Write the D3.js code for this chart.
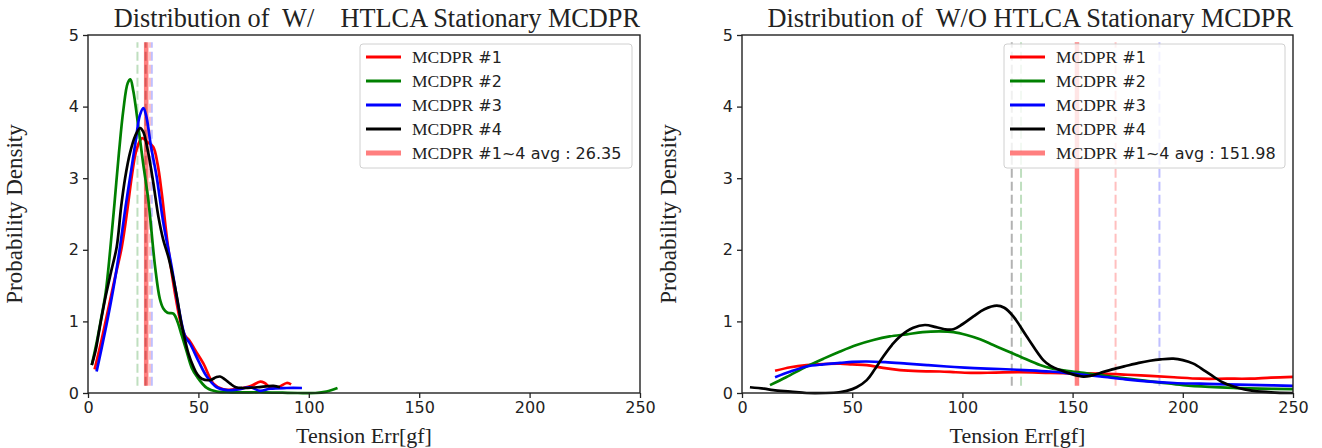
<!DOCTYPE html>
<html>
<head>
<meta charset="utf-8">
<script src="https://cdn.jsdelivr.net/npm/d3@7"></script>
<style>
  body { margin: 0; background: #fff; }
  text { white-space: pre; }
</style>
</head>
<body>
<svg width="1322" height="448"></svg>
<script>
const seriesNames = ['MCDPR #1', 'MCDPR #2', 'MCDPR #3', 'MCDPR #4'];
const seriesColors = ['#ff0000', '#008000', '#0000ff', '#000000'];
const xTicks = [0, 50, 100, 150, 200, 250];
const yTicks = [0, 1, 2, 3, 4, 5];

// left panel : W/ HTLCA  (x = tension err, y = density)
const withRed = [[3,0.33],[6,0.72],[9,1.15],[12,1.58],[15.3,2.04],[18,2.6],[19.8,3.02],[22,3.4],[24.5,3.56],[27,3.5],[29.5,3.44],[31.5,3.2],[33.4,2.79],[36,2.1],[39.4,1.39],[42,0.98],[44,0.8],[46,0.73],[48.5,0.6],[52.3,0.41],[56.8,0.13],[61.3,0.05],[66,0.05],[70,0.07],[74,0.1],[78,0.16],[80,0.14],[82.5,0.08],[86,0.08],[90,0.14],[92,0.12]];
const withGreen = [[1.7,0.39],[4,0.72],[6,1.05],[8,1.4],[10,1.98],[12,2.65],[14,3.35],[16,3.95],[18,4.33],[19.2,4.38],[20.5,4.22],[22.8,3.72],[25,3.2],[27.3,2.7],[30.4,1.76],[32.5,1.32],[34.1,1.18],[36,1.12],[38.7,1.11],[40.5,1.0],[42.5,0.8],[44.5,0.6],[47,0.35],[49.3,0.23],[53.8,0.07],[58.3,0.02],[65,0.01],[80,0.01],[95,0.0],[103,0.0],[108,0.02],[113,0.07]];
const withBlue = [[3.9,0.3],[6,0.6],[9,1.05],[12,1.55],[14.5,2.04],[17,2.6],[19,3.0],[21.5,3.5],[23.5,3.88],[25.1,3.98],[26.5,3.85],[28.5,3.45],[31.1,3.02],[34,2.4],[37.9,1.76],[41,1.2],[44,0.79],[46.2,0.69],[50,0.45],[53.8,0.23],[58.3,0.08],[62.9,0.04],[68,0.05],[73.4,0.08],[78,0.03],[82.5,0.06],[90,0.07],[96.9,0.07]];
const withBlack = [[1.7,0.39],[3.5,0.6],[5.4,0.93],[8,1.35],[10.5,1.7],[13,2.04],[15,2.6],[16.8,3.0],[19,3.35],[21.5,3.6],[23.6,3.7],[25,3.65],[27,3.4],[29.5,2.95],[31.9,2.46],[34,2.15],[36.4,1.9],[38.5,1.62],[40.5,1.3],[42,1.02],[43.5,0.8],[45.5,0.55],[47.7,0.37],[49.5,0.26],[51.5,0.2],[55.3,0.18],[58,0.22],[59.8,0.23],[62,0.19],[64.4,0.13],[67,0.08],[70,0.07],[76.5,0.08],[84,0.1],[87,0.08]];
const withMeans = [28.0, 22.4, 28.9, 26.1];
const withAvg = 26.35;

// right panel : W/O HTLCA
const woRed = [[15,0.31],[22,0.36],[29.3,0.39],[37,0.405],[44.5,0.41],[50,0.4],[56.6,0.39],[64,0.35],[71.7,0.32],[80,0.305],[89.8,0.3],[97,0.29],[104.9,0.28],[115,0.285],[126,0.29],[139.8,0.28],[150,0.275],[162.5,0.27],[175,0.255],[185.1,0.24],[196,0.22],[207.8,0.2],[220,0.2],[230.4,0.2],[240,0.215],[250,0.225]];
const woGreen = [[12.7,0.11],[20,0.22],[29.3,0.37],[37,0.48],[44.5,0.58],[52,0.67],[59.6,0.74],[67,0.79],[74.7,0.82],[82,0.85],[89.8,0.86],[96,0.85],[101.9,0.81],[108,0.75],[114,0.67],[120,0.59],[126.1,0.51],[135.2,0.39],[141,0.34],[147.3,0.31],[155,0.28],[162.5,0.25],[171,0.215],[180.6,0.18],[190,0.145],[200.2,0.11],[212,0.085],[223,0.07],[235,0.06],[250,0.055]];
const woBlue = [[15,0.22],[22,0.3],[29.3,0.37],[37,0.4],[44.5,0.42],[50,0.435],[56.6,0.44],[65,0.43],[74.7,0.41],[84,0.39],[92.9,0.37],[101,0.355],[111,0.34],[117,0.335],[128,0.32],[139.8,0.3],[150,0.27],[162.5,0.23],[174,0.19],[185.1,0.16],[196,0.14],[207.8,0.13],[220,0.12],[235,0.11],[250,0.1]];
const woBlack = [[3.6,0.08],[10,0.06],[14.2,0.04],[22,0.02],[29.3,0.0],[38,0.0],[44,0.01],[47.5,0.03],[52,0.08],[56.6,0.18],[60,0.32],[64.1,0.51],[68,0.67],[71.7,0.79],[77.7,0.91],[83,0.95],[88,0.92],[92,0.89],[95.9,0.89],[100,0.96],[105,1.07],[110,1.17],[115.6,1.22],[119,1.19],[123.1,1.07],[129.2,0.79],[136.7,0.46],[140,0.38],[144.3,0.32],[150,0.26],[154.9,0.23],[158,0.24],[162.5,0.28],[168,0.33],[174.5,0.38],[180,0.42],[185.1,0.45],[190,0.47],[195.7,0.48],[200,0.46],[204.8,0.41],[210,0.31],[213.9,0.23],[218,0.15],[223,0.09],[228,0.05],[232,0.03],[240,0.01],[250,0.0]];
const woMeans = [169.5, 126.6, 189.4, 122.4];
const woAvg = 151.98;

const svg = d3.select('svg');
const serif = '"Liberation Serif", "DejaVu Serif", serif';
const sans = '"DejaVu Sans", sans-serif';

const drawPanel = (opt) => {
    const { left, right, top, bottom } = opt;
    const xScale = d3.scaleLinear().domain([0, 250]).range([left, right]);
    const yScale = d3.scaleLinear().domain([0, 5]).range([bottom, top]);
    const g = svg.append('g');

    // thin dashed lines at each series mean, and the thick avg line
    opt.means.forEach((m, i) => {
        g.append('line')
            .attr('x1', xScale(m)).attr('x2', xScale(m))
            .attr('y1', yScale(0.1)).attr('y2', yScale(4.9))
            .attr('stroke', seriesColors[i])
            .attr('stroke-opacity', i === 3 ? 0.3 : 0.25)
            .attr('stroke-width', 2)
            .attr('stroke-dasharray', '9,4');
    });
    g.append('line')
        .attr('x1', xScale(opt.avg)).attr('x2', xScale(opt.avg))
        .attr('y1', yScale(0.1)).attr('y2', yScale(4.9))
        .attr('stroke', '#ff0000')
        .attr('stroke-opacity', 0.5)
        .attr('stroke-width', 4.5);

    const line = d3.line()
        .x(d => xScale(d[0]))
        .y(d => yScale(d[1]))
        .curve(d3.curveCatmullRom.alpha(0.5));

    opt.series.forEach((s, i) => {
        g.append('path')
            .attr('d', line(s))
            .attr('fill', 'none')
            .attr('stroke', seriesColors[i])
            .attr('stroke-width', 2.7)
            .attr('stroke-linejoin', 'round');
    });

    // axes
    const xAxisG = g.append('g')
        .attr('transform', `translate(0, ${bottom})`)
        .call(d3.axisBottom(xScale).tickValues(xTicks).tickFormat(d3.format('d')).tickSize(5).tickPadding(4));
    const yAxisG = g.append('g')
        .attr('transform', `translate(${left}, 0)`)
        .call(d3.axisLeft(yScale).tickValues(yTicks).tickFormat(d3.format('d')).tickSize(5).tickPadding(4));
    [xAxisG, yAxisG].forEach(a => {
        a.select('.domain').remove();
        a.selectAll('.tick line').attr('stroke', '#222').attr('stroke-width', 1.3);
        a.selectAll('.tick text')
            .attr('font-family', sans)
            .attr('font-size', 16)
            .attr('fill', '#222');
    });

    g.append('rect')
        .attr('x', left).attr('y', top)
        .attr('width', right - left).attr('height', bottom - top)
        .attr('fill', 'none')
        .attr('stroke', '#222')
        .attr('stroke-width', 1.4);

    // legend
    const lg = g.append('g').attr('transform', `translate(${opt.legendX}, 44)`);
    lg.append('rect')
        .attr('width', opt.legendW).attr('height', 124)
        .attr('rx', 3)
        .attr('fill', '#fff').attr('fill-opacity', 0.8)
        .attr('stroke', '#d0d0d0');
    const labels = seriesNames.concat([`MCDPR #1~4 avg : ${opt.avg.toFixed(2)}`]);
    labels.forEach((lab, i) => {
        const cy = 13 + i * 24;
        const isAvg = i === 4;
        lg.append('line')
            .attr('x1', 6).attr('x2', 41)
            .attr('y1', cy).attr('y2', cy)
            .attr('stroke', isAvg ? '#ff0000' : seriesColors[i])
            .attr('stroke-opacity', isAvg ? 0.5 : 1)
            .attr('stroke-width', isAvg ? 5 : 3);
        const t = lg.append('text')
            .attr('x', 52).attr('y', cy + 6)
            .attr('fill', '#222');
        t.append('tspan').attr('font-family', serif).attr('font-size', 17.5).text('MCDPR');
        t.append('tspan').attr('font-family', sans).attr('font-size', 16).text(lab.slice(5));
    });

    // title and axis labels
    g.append('text')
        .attr('x', right).attr('y', 27)
        .attr('text-anchor', 'end')
        .attr('font-family', serif)
        .attr('font-size', 26.3)
        .attr('fill', '#222')
        .text(opt.title);
    g.append('text')
        .attr('x', (left + right) / 2).attr('y', 443)
        .attr('text-anchor', 'middle')
        .attr('font-family', serif)
        .attr('font-size', 22)
        .attr('fill', '#222')
        .text('Tension Err[gf]');
    g.append('text')
        .attr('transform', `translate(${left - 66}, ${(top + bottom) / 2}) rotate(-90)`)
        .attr('text-anchor', 'middle')
        .attr('font-family', serif)
        .attr('font-size', 23)
        .attr('fill', '#222')
        .text('Probability Density');
};

drawPanel({
    left: 88, right: 640, top: 35, bottom: 393,
    series: [withRed, withGreen, withBlue, withBlack],
    means: withMeans, avg: withAvg,
    legendX: 360, legendW: 272,
    title: 'Distribution of  W/    HTLCA Stationary MCDPR'
});

drawPanel({
    left: 742, right: 1293, top: 35, bottom: 393,
    series: [woRed, woGreen, woBlue, woBlack],
    means: woMeans, avg: woAvg,
    legendX: 1004, legendW: 281,
    title: 'Distribution of  W/O HTLCA Stationary MCDPR'
});
</script>
</body>
</html>
